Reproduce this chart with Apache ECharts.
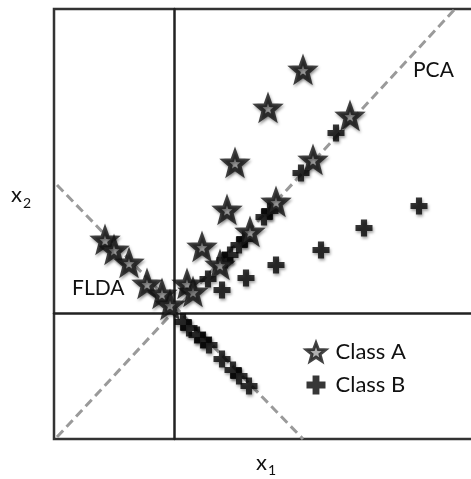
<!DOCTYPE html>
<html>
<head>
<meta charset="utf-8">
<script src="https://cdn.jsdelivr.net/npm/echarts@6/dist/echarts.min.js"></script>
<style>
html,body{margin:0;padding:0;background:#fff;}
#c{width:471px;height:479px;}
</style>
</head>
<body>
<div id="c"></div>
<script>
// Class A points (stars)
var classA = [[12.9,24.3],[9.4,20.5],[17.6,19.7],[6.1,15.0],[13.9,15.3],[5.3,10.3],[10.2,11.1],[7.6,8.1],[2.8,6.6],[4.6,4.8],[1.3,2.9],[1.9,2.1]];
// Class A projected on FLDA direction
var classAProj = [[-6.9,7.3],[-6.0,6.3],[-4.5,5.0],[-2.7,2.9],[-1.2,1.9],[-0.4,0.8]];
// Class B points (plus)
var classB = [[16.2,18.0],[12.7,14.0],[24.5,10.7],[9.0,9.6],[9.6,10.2],[6.5,6.8],[7.1,7.4],[19.0,8.5],[14.7,6.3],[5.1,5.3],[5.6,5.8],[10.2,4.8],[3.4,3.4],[7.2,3.5],[4.8,2.3]];
// Class B projected on FLDA direction
var classBProj = [[0.9,-0.9],[1.5,-1.5],[2.3,-2.2],[2.9,-2.7],[3.5,-3.2],[4.8,-4.6],[5.9,-5.7],[6.5,-6.3],[7.5,-7.3]];
// Direction lines
var pcaLine = [[-11.7,-12.4],[28.1,30.4]];
var fldaLine = [[-11.7,12.8],[12.9,-12.6]];
var seriesNames = ['Class A','Class B'];
var lineLabels = ['PCA','FLDA'];
var axisNames = ['x','1','x','2'];

var STAR = 'path://M50,0L62.3,33L97.6,34.5L70,56.5L79.4,90.5L50,71L20.6,90.5L30,56.5L2.4,34.5L37.7,33Z';
var PLUS = 'path://M32,0H68V32H100V68H68V100H32V68H0V32H32Z';
var FONT = 'Lato';

var chart = echarts.init(document.getElementById('c'));
var starStyle = {color:'#9c9c9c', borderColor:'#151515', borderWidth:4, shadowBlur:3, shadowColor:'rgba(0,0,0,0.45)', shadowOffsetX:1, shadowOffsetY:2};
var plusStyle = {color:'#050505', shadowBlur:3, shadowColor:'rgba(0,0,0,0.45)', shadowOffsetX:1, shadowOffsetY:2};
var dash = {color:'#9a9a9a', width:3, type:[9,5]};

chart.setOption({
  animation:false,
  backgroundColor:'#fff',
  grid:{left:54, top:9, width:447, height:430, outerBoundsMode:'none', containLabel:false, show:true, borderColor:'#333', borderWidth:2.5, backgroundColor:'#fff'},
  xAxis:{type:'value', min:-12, max:32.7, splitLine:{show:false}, axisTick:{show:false}, axisLabel:{show:false},
    axisLine:{show:true, onZero:true, lineStyle:{color:'#222', width:2.5}}},
  yAxis:{type:'value', min:-12.6, max:30.4, splitLine:{show:false}, axisTick:{show:false}, axisLabel:{show:false},
    axisLine:{show:true, onZero:true, lineStyle:{color:'#222', width:2.5}}},
  legend:{
    data:[{name:seriesNames[0], icon:STAR, itemStyle:{color:'#9c9c9c', borderColor:'#151515', borderWidth:3}},
          {name:seriesNames[1], icon:PLUS, itemStyle:{color:'#050505'}}],
    orient:'vertical', left:305, top:341, padding:0, itemWidth:19, itemHeight:19, itemGap:11,
    textStyle:{fontFamily:FONT, fontSize:22, color:'#111', lineHeight:22, padding:[0,0,0,5]},
    selectedMode:false
  },
  graphic:[
    {type:'text', style:{x:413, y:70, text:lineLabels[0], font:'21px '+FONT, fill:'#111', verticalAlign:'middle'}},
    {type:'text', style:{x:72, y:288, text:lineLabels[1], font:'21px '+FONT, fill:'#111', verticalAlign:'middle'}},
    {type:'text', style:{x:256, y:463, text:axisNames[0], font:'22px '+FONT, fill:'#111', verticalAlign:'middle'}},
    {type:'text', style:{x:268, y:470, text:axisNames[1], font:'14px '+FONT, fill:'#111', verticalAlign:'middle'}},
    {type:'text', style:{x:11, y:195, text:axisNames[2], font:'22px '+FONT, fill:'#111', verticalAlign:'middle'}},
    {type:'text', style:{x:23, y:203, text:axisNames[3], font:'14px '+FONT, fill:'#111', verticalAlign:'middle'}}
  ],
  series:[
    {type:'line', data:pcaLine, symbol:'none', lineStyle:dash, silent:true, z:1},
    {type:'line', data:fldaLine, symbol:'none', lineStyle:dash, silent:true, z:1},
    {name:seriesNames[1], type:'scatter', data:classB, symbol:PLUS, symbolSize:17, itemStyle:plusStyle, z:3},
    {name:seriesNames[1], type:'scatter', data:classBProj, symbol:PLUS, symbolSize:17, itemStyle:plusStyle, z:3},
    {name:seriesNames[0], type:'scatter', data:classA, symbol:STAR, symbolSize:21, itemStyle:starStyle, z:4},
    {name:seriesNames[0], type:'scatter', data:classAProj, symbol:STAR, symbolSize:21, itemStyle:starStyle, z:4}
  ]
});
</script>
</body>
</html>
